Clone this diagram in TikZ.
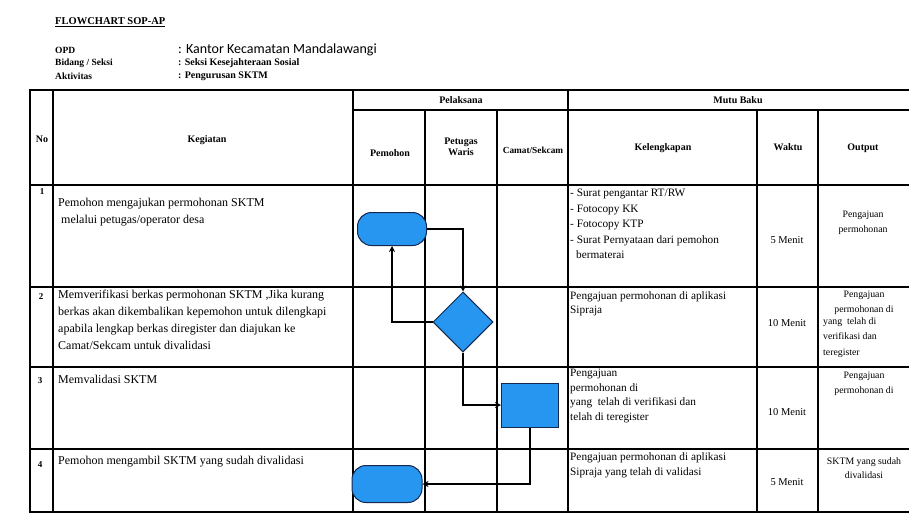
\documentclass[tikz,border=0pt]{standalone}
\usepackage{fontspec}
\setmainfont{Liberation Serif}
\newfontfamily\calibri{Carlito}
\usetikzlibrary{shapes.geometric,arrows.meta}
\definecolor{shapeblue}{RGB}{38,150,240}
\definecolor{shapeedge}{RGB}{22,40,80}
\begin{document}
\begin{tikzpicture}[x=1pt,y=-1pt,
  grid/.style={line width=1.5pt,line cap=rect},
  hdr/.style={font=\fontsize{10}{11.5}\selectfont\bfseries,align=center,inner sep=0},
  meta/.style={font=\fontsize{9.5}{11}\selectfont\bfseries,anchor=west,inner sep=0},
  body/.style={font=\fontsize{12}{17}\selectfont,anchor=north west,align=left,inner sep=0},
  kel/.style={font=\fontsize{11.3}{15.5}\selectfont,anchor=north west,align=left,inner sep=0},
  wkt/.style={font=\fontsize{10.5}{12}\selectfont,inner sep=0},
  outp/.style={font=\fontsize{9.8}{15.5}\selectfont,align=center,inner sep=0},
  num/.style={font=\fontsize{9}{11}\selectfont\bfseries,inner sep=0},
  term/.style={rectangle,rounded corners=14pt,fill=shapeblue,draw=shapeedge,line width=1pt,minimum width=69pt,minimum height=33pt},
  dia/.style={diamond,aspect=1,fill=shapeblue,draw=shapeedge,line width=1pt,minimum width=60pt,minimum height=60pt,inner sep=0},
  proc/.style={rectangle,fill=shapeblue,draw=shapeedge,line width=1pt,minimum width=57pt,minimum height=44pt},
  conn/.style={line width=1.3pt,-{Stealth[length=6pt,width=6pt]}}]
\useasboundingbox (0,0) rectangle (909,517);
\fill[white] (0,0) rectangle (909,517);

% heading
\node[font=\fontsize{10.5}{12}\selectfont\bfseries,anchor=west,inner sep=0] (title) at (55,22) {\underline{FLOWCHART SOP-AP}};
\node[meta] (opd) at (55,50) {OPD};
\node[font=\fontsize{14}{16}\selectfont\calibri,anchor=west,inner sep=0] (opdv) at (178,50) {: Kantor Kecamatan Mandalawangi};
\node[meta] (bid) at (55,63) {Bidang / Seksi};
\node[meta,font=\fontsize{10}{11}\selectfont\bfseries] (bidv) at (178,63) {: Seksi Kesejahteraan Sosial};
\node[meta] (akt) at (55,76) {Aktivitas};
\node[meta,font=\fontsize{10}{11}\selectfont\bfseries] (aktv) at (178,76) {: Pengurusan SKTM};

% table grid
\draw[grid] (30,90) -- (909,90);
\draw[grid] (353,110) -- (909,110);
\foreach \yy in {185,287,367,449,512} \draw[grid] (30,\yy) -- (909,\yy);
\foreach \xx in {30,53,353,568} \draw[grid] (\xx,90) -- (\xx,512);
\foreach \xx in {425,497,757,818} \draw[grid] (\xx,110) -- (\xx,512);

% header
\node[hdr] (hno) at (42,139) {No};
\node[hdr] (hkeg) at (207,140) {Kegiatan};
\node[hdr] (hpel) at (461,100) {Pelaksana};
\node[hdr] (hmutu) at (738,100) {Mutu Baku};
\node[hdr] (hpem) at (390,153) {Pemohon};
\node[hdr] (hpet) at (461,147) {Petugas\\Waris};
\node[hdr,font=\fontsize{9.3}{11}\selectfont\bfseries] (hcam) at (533,150) {Camat/Sekcam};
\node[hdr] (hkel) at (663,148) {Kelengkapan};
\node[hdr] (hwak) at (788,147) {Waktu};
\node[hdr] (hout) at (863,148) {Output};

% row 1
\node[num] (n1) at (42,192) {1};
\node[body] (k1) at (58,198) {Pemohon mengajukan permohonan SKTM\\\hspace{3pt}melalui petugas/operator desa};
\node[kel] (l1) at (570,189) {- Surat pengantar RT/RW\\- Fotocopy KK\\- Fotocopy KTP\\- Surat Pernyataan dari pemohon\\\hspace{6pt}bermaterai};
\node[wkt] (w1) at (787,240) {5 Menit};
\node[outp] (o1) at (863,223) {Pengajuan\\permohonan};

% row 2
\node[num] (n2) at (41,297) {2};
\node[body] (k2) at (58,290) {Memverifikasi berkas permohonan SKTM ,Jika kurang\\berkas akan dikembalikan kepemohon untuk dilengkapi\\apabila lengkap berkas diregister dan diajukan ke\\Camat/Sekcam untuk divalidasi};
\node[kel,font=\fontsize{11.3}{14}\selectfont] (l2) at (570,291) {Pengajuan permohonan di aplikasi\\Sipraja};
\node[wkt] (w2) at (787,323) {10 Menit};
\node[outp] (o2a) at (864,303) {Pengajuan\\permohonan di};
\node[outp,align=left,anchor=north west,font=\fontsize{9.8}{15.5}\selectfont] (o2b) at (823,317) {yang \ telah di\\verifikasi dan\\teregister};

% row 3
\node[num] (n3) at (40,381) {3};
\node[body] (k3) at (58,375) {Memvalidasi SKTM};
\node[kel,font=\fontsize{11.3}{14.5}\selectfont] (l3) at (570,369) {Pengajuan\\permohonan di\\yang \ telah di verifikasi dan\\telah di teregister};
\node[wkt] (w3) at (787,412) {10 Menit};
\node[outp] (o3) at (864,384) {Pengajuan\\permohonan di};

% row 4
\node[num] (n4) at (40,465) {4};
\node[body] (k4) at (58,456) {Pemohon mengambil SKTM yang sudah divalidasi};
\node[kel,font=\fontsize{11.3}{15}\selectfont] (l4) at (570,452) {Pengajuan permohonan di aplikasi\\Sipraja yang telah di validasi};
\node[wkt] (w4) at (787,482) {5 Menit};
\node[outp,font=\fontsize{9.8}{14}\selectfont] (o4) at (864,468) {SKTM yang sudah\\divalidasi};

% flow shapes
\node[term] (t1) at (392,229) {};
\node[dia] (d1) at (463,322) {};
\node[proc] (p1) at (530,405) {};
\node[term,minimum width=70pt,minimum height=37pt] (t2) at (387,484) {};

% connectors
\draw[conn] (t1.east) -| (d1.north);
\draw[conn] (d1.west) -| (t1.south);
\draw[conn] (d1.south) |- (p1.west);
\draw[conn] (p1.south) |- (t2.east);
\end{tikzpicture}
\end{document}
